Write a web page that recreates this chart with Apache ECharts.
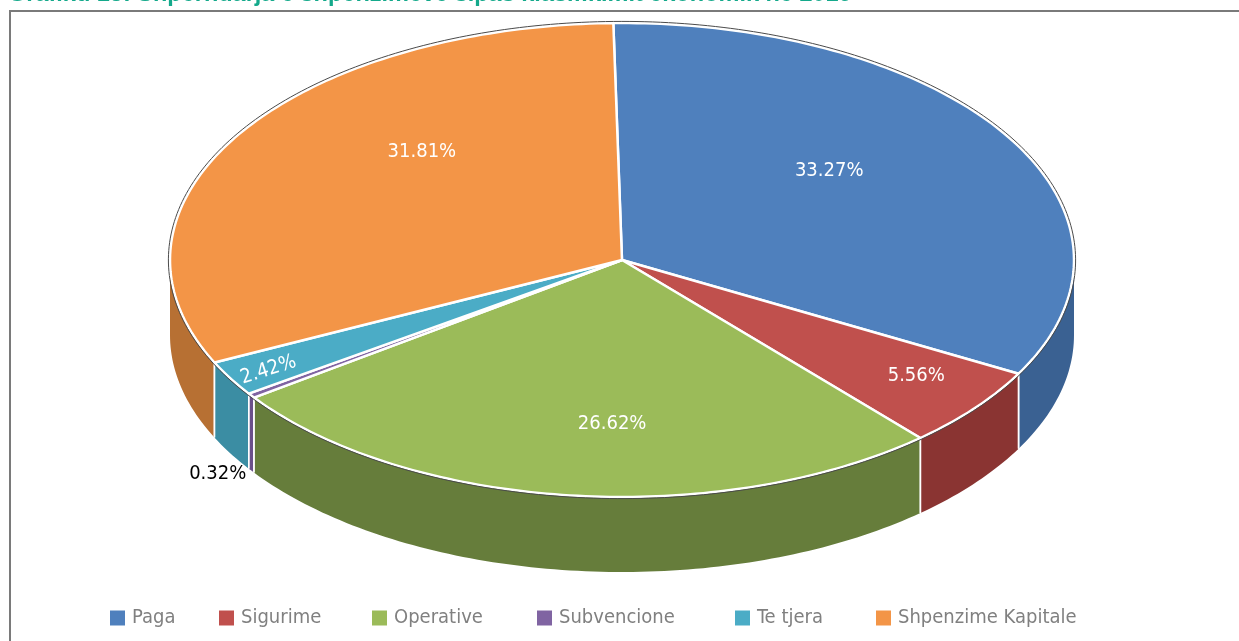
<!DOCTYPE html>
<html>
<head>
<meta charset="utf-8">
<script src="https://cdn.jsdelivr.net/npm/echarts@6/dist/echarts.min.js"></script>
<style>
  html, body { margin: 0; padding: 0; background: #fff; }
  #chart { width: 1239px; height: 641px; }
</style>
</head>
<body>
<div id="chart"></div>
<script>
const categories = ["Paga", "Sigurime", "Operative", "Subvencione", "Te tjera", "Shpenzime Kapitale"];
const values = [33.27, 5.56, 26.62, 0.32, 2.42, 31.81];
const colors = ["#4f80bd", "#c0504d", "#9bbb59", "#8064a2", "#4bacc6", "#f39547"];
const sideColors = ["#3a6192", "#8a3432", "#667d3b", "#6a4f8a", "#3b8da3", "#b77033"];

// layout of the tilted pie
const cx = 622, cy = 260, rx = 452, ry = 237, depth = 75;
const startDeg = -1.1;
// label placement per slice: [fraction of rx, fraction of ry], null = outside
const labelPlace = [[0.536, 0.725], [0.834, 0.783], [0.19, 0.697], null, [0.903, 0.93], [0.52, 0.874]];
const legendX = [110, 219, 372, 537, 735, 876];
const narrow = "'DejaVu Sans Condensed', 'Roboto Condensed', Roboto, sans-serif";

const total = values.reduce((a, b) => a + b, 0);
const starts = [];
let acc = startDeg;
values.forEach((v) => { starts.push(acc); acc += v / total * 360; });

function pt(deg, dy, grow) {
  const r = deg * Math.PI / 180;
  const g = grow || 0;
  return [cx + (rx + g) * Math.sin(r), cy - (ry + g) * Math.cos(r) + (dy || 0)];
}
function arcPts(a1, a2, dy, grow) {
  const n = Math.max(2, Math.ceil(Math.abs(a2 - a1)));
  const out = [];
  for (let i = 0; i <= n; i++) out.push(pt(a1 + (a2 - a1) * i / n, dy, grow));
  return out;
}

function makeRender(i) {
  return function (params, api) {
    const v = api.value(0);
    const a1 = starts[i], a2 = a1 + v / total * 360;
    const children = [];
    // front wall (only the half facing the viewer)
    const w1 = Math.max(a1, 90), w2 = Math.min(a2, 270);
    if (w2 > w1) {
      children.push({
        type: "polygon", z2: 1,
        shape: { points: arcPts(w1, w2, 0).concat(arcPts(w2, w1, depth)) },
        style: { fill: sideColors[i] }
      });
      [a1, a2].forEach((a) => {
        if (a > 90 && a < 270) {
          const p = pt(a, 0), q = pt(a, depth);
          children.push({
            type: "line", z2: 2,
            shape: { x1: p[0], y1: p[1], x2: q[0], y2: q[1] },
            style: { stroke: "#fff", lineWidth: 1.5 }
          });
        }
      });
    }
    // top face
    children.push({
      type: "polygon", z2: 10,
      shape: { points: [[cx, cy]].concat(arcPts(a1, a2, 0)) },
      style: { fill: colors[i], stroke: "#fff", lineWidth: 2.5, lineJoin: "round" }
    });
    // dark rim round the top face
    children.push({
      type: "polyline", z2: 11,
      shape: { points: arcPts(a1, a2, 0, 1.6) },
      style: { stroke: "#4a4a4a", lineWidth: 1, fill: null }
    });
    // label
    const mid = (a1 + a2) / 2, r = mid * Math.PI / 180;
    const txt = values[i].toFixed(2) + "%";
    const lp = labelPlace[i];
    if (lp) {
      children.push({
        type: "text", z2: 20,
        x: cx + rx * lp[0] * Math.sin(r),
        y: cy - ry * lp[1] * Math.cos(r),
        rotation: i === 4 ? 0.31 : 0,
        style: {
          text: txt, fill: "#fff", align: "center", verticalAlign: "middle",
          fontSize: 20, fontFamily: narrow
        }
      });
    } else {
      const b = pt(mid, depth);
      children.push({
        type: "text", z2: 20,
        x: b[0] - 5, y: b[1] + 3,
        style: {
          text: txt, fill: "#000", align: "right", verticalAlign: "middle",
          fontSize: 20, fontFamily: narrow
        }
      });
    }
    return { type: "group", children: children };
  };
}

const chart = echarts.init(document.getElementById("chart"));

const option = {
  animation: false,
  graphic: [
    {
      type: "rect", silent: true,
      shape: { x: 10, y: 11, width: 1300, height: 700 },
      style: { fill: "none", stroke: "#7a7a7a", lineWidth: 2 }
    },
    {
      type: "text", silent: true, x: 8, y: -5,
      style: {
        text: "Grafiku 13: Shpërndarja e shpenzimeve sipas klasifikimit ekonomik në 2019",
        fill: "#14a98b", fontSize: 23.5, fontWeight: "bold", fontFamily: "'Liberation Sans', Arial, sans-serif",
        verticalAlign: "middle"
      }
    }
  ],
  legend: categories.map((c, i) => ({
    data: [c],
    left: legendX[i],
    top: 608,
    padding: 0,
    icon: "rect",
    itemWidth: 15,
    itemHeight: 15,
    selectedMode: false,
    textStyle: { color: "#808080", fontSize: 20, fontFamily: narrow, padding: [0, 0, 0, 2] }
  })),
  series: categories.map((c, i) => ({
    type: "custom",
    name: c,
    coordinateSystem: "none",
    itemStyle: { color: colors[i] },
    renderItem: makeRender(i),
    data: [[values[i]]]
  }))
};

chart.setOption(option);
</script>
</body>
</html>
